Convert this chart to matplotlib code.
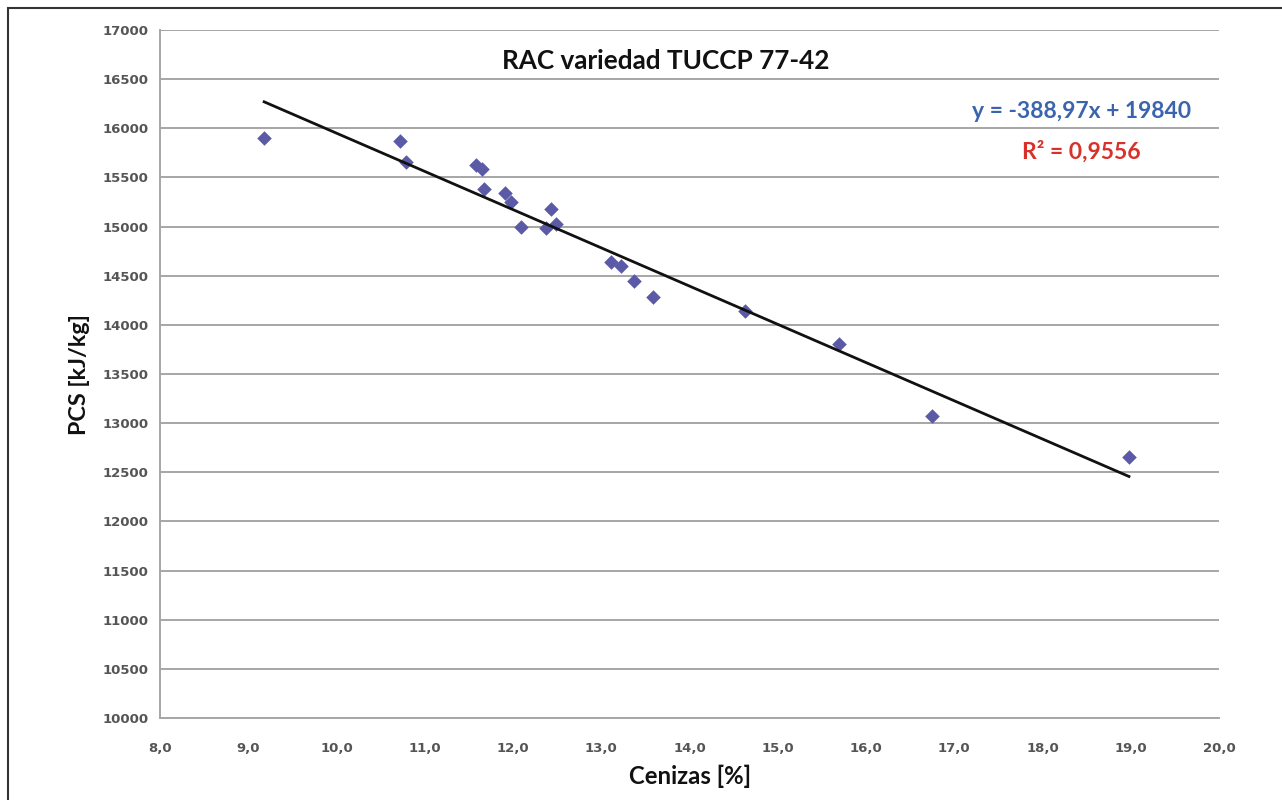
import matplotlib
matplotlib.use("Agg")
import matplotlib.pyplot as plt
from matplotlib.patches import Rectangle
import numpy as np

# Data
cenizas = [9.18, 10.72, 10.79, 11.58, 11.65, 11.67, 11.91, 11.98, 12.09, 12.37,
           12.43, 12.49, 13.11, 13.22, 13.37, 13.59, 14.63, 15.69, 16.75, 18.98]
pcs = [15900, 15870, 15655, 15625, 15585, 15385, 15345, 15250, 15000, 14985,
       15180, 15030, 14635, 14600, 14445, 14280, 14140, 13810, 13070, 12660]

slope = -388.97
intercept = 19840
r2 = 0.9556

title = "RAC variedad TUCCP 77-42"
xlabel = "Cenizas [%]"
ylabel = "PCS [kJ/kg]"
xticks = np.arange(8, 20.01, 1.0)
yticks = np.arange(10000, 17001, 500)

fig = plt.figure(figsize=(12.82, 8.0), dpi=100)
ax = fig.add_axes([160/1282, 1-718/800, (1219-160)/1282, (718-30)/800])

ax.set_xlim(8, 20)
ax.set_ylim(10000, 17000)
ax.set_xticks(xticks)
ax.set_yticks(yticks)
ax.set_xticklabels([f"{v:.1f}".replace(".", ",") for v in xticks])
ax.set_yticklabels([f"{int(v)}" for v in yticks])
ax.tick_params(length=0, labelsize=9.5, colors="#555555")
ax.tick_params(axis="x", pad=17)
ax.tick_params(axis="y", pad=8)
for lab in ax.get_xticklabels() + ax.get_yticklabels():
    lab.set_fontweight("bold")

ax.grid(axis="y", color="#a6a6a6", linewidth=1.4)
ax.set_axisbelow(True)
for s in ["top", "right"]:
    ax.spines[s].set_visible(False)
for s in ["left", "bottom"]:
    ax.spines[s].set_color("#a6a6a6")
    ax.spines[s].set_linewidth(1.4)

ax.scatter(cenizas, pcs, marker="D", s=55, color="#5a5aa6", zorder=3, linewidths=0)

xl = np.array([min(cenizas), max(cenizas)])
ax.plot(xl, slope * xl + intercept, color="#111111", linewidth=2, zorder=4)

fam = ["Lato", "DejaVu Sans"]
ax.text(0.478, 0.955, title, transform=ax.transAxes, ha="center", va="center",
        fontsize=18.8, fontweight="bold", family=fam, color="#111111")
eq = f"y = {slope:.2f}x + {intercept}".replace(".", ",")
ax.text(0.870, 0.881, eq, transform=ax.transAxes, ha="center", va="center",
        fontsize=16.5, fontweight="bold", family=fam, color="#3a64ad")
ax.text(0.870, 0.823, "R\u00b2 = " + f"{r2:.4f}".replace(".", ","),
        transform=ax.transAxes, ha="center", va="center",
        fontsize=16.5, fontweight="bold", family=fam, color="#d8312a")

fig.text(690/1282, 1-776/800, xlabel, ha="center", va="center", fontsize=17.2,
         fontweight="bold", family=fam, color="#111111")
fig.text(80/1282, 1-375/800, ylabel, ha="center", va="center", rotation=90,
         fontsize=16.8, fontweight="bold", family=fam, color="#111111")

fig.patches.append(Rectangle((8/1282, -0.1), 2, 1.1 - 8/800, transform=fig.transFigure,
                             fill=False, edgecolor="#333333", linewidth=1.5, clip_on=False))

fig.savefig("out.png", dpi=100)
